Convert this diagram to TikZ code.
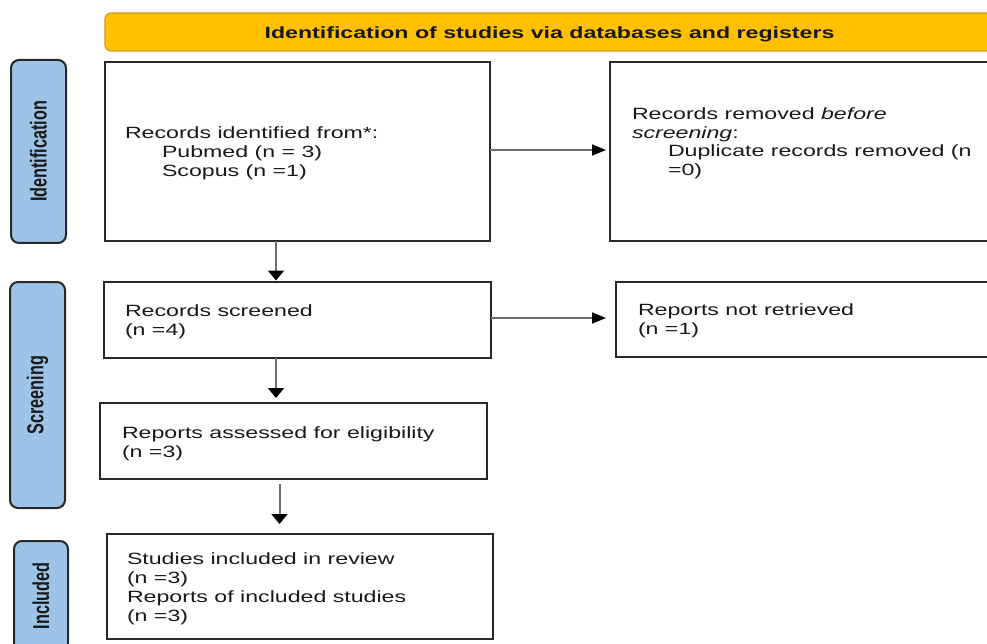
\documentclass[tikz,border=0pt]{standalone}
\usepackage{graphicx}
\usepackage{fontspec}
\setmainfont{Liberation Sans}[FakeStretch=1.42]
\newfontfamily\sidefont{Liberation Sans}
\usetikzlibrary{arrows.meta}
\definecolor{hdrfill}{RGB}{255,192,0}
\definecolor{hdrdraw}{RGB}{201,160,30}
\definecolor{sidefill}{RGB}{157,195,230}
\definecolor{boxdraw}{RGB}{40,40,40}
\definecolor{txt}{RGB}{25,25,25}
\definecolor{arrline}{RGB}{110,110,110}
\begin{document}
\begin{tikzpicture}[x=1pt,y=-1pt,
  every node/.style={inner sep=0pt, outer sep=0pt},
  box/.style={draw=boxdraw, line width=2.1pt, fill=white, anchor=north west},
  side/.style={draw=boxdraw, line width=2pt, fill=sidefill, rounded corners=8pt, rotate=90,
    font=\sidefont\bfseries\fontsize{16.2}{19}\selectfont, text=txt},
  hdr/.style={draw=hdrdraw, line width=1.2pt, fill=hdrfill, rounded corners=6pt, anchor=north west},
  tx/.style={anchor=base west, text=txt, font=\fontsize{16.3}{19}\selectfont},
  hx/.style={anchor=base, text=txt, font=\bfseries\fontsize{16.3}{19}\selectfont},
  harr/.style={draw=arrline, line width=1.5pt, -{Triangle[length=14pt,width=11pt,color=black]}},
  varr/.style={draw=arrline, line width=2pt, -{Triangle[length=10pt,width=16pt,color=black]}}
]
\useasboundingbox (0,0) rectangle (987,644);
\clip (0,0) rectangle (987,644);
\fill[white] (0,0) rectangle (987,644);

% header
\node[hdr, minimum width=889, minimum height=38] (hdr) at (105,13) {};
\node[hx] (hdrtxt) at (549.5,38.3) {Identification of studies via databases and registers};

% side labels
\node[side, minimum width=183, minimum height=55] (sid) at (38.5,151.5) {\scalebox{1}[1.42]{Identification}};
\node[side, minimum width=226, minimum height=55] (ssc) at (37.5,395) {\scalebox{1}[1.42]{Screening}};
\node[side, minimum width=110, minimum height=54] (sin) at (41,596) {\scalebox{1}[1.42]{Included}};

% boxes
\node[box, minimum width=385, minimum height=179] (b1) at (105,62) {};
\node[box, minimum width=400, minimum height=179] (b2) at (610,62) {};
\node[box, minimum width=387, minimum height=76] (b3) at (104,282) {};
\node[box, minimum width=400, minimum height=75] (b4) at (616,282) {};
\node[box, minimum width=387, minimum height=76] (b5) at (100,403) {};
\node[box, minimum width=386, minimum height=105] (b6) at (107,534) {};

% texts
\node[tx] (t11) at (125,138.5) {Records identified from*:};
\node[tx] (t12) at (162,157.5) {Pubmed (n = 3)};
\node[tx] (t13) at (162,176.5) {Scopus (n =1)};

\node[tx] (t21) at (632,119.5) {Records removed \textit{before}};
\node[tx] (t22) at (632,138.3) {\textit{screening}:};
\node[tx] (t23) at (668,157) {Duplicate records removed (n};
\node[tx] (t24) at (668,176) {=0)};

\node[tx] (t31) at (125,316.5) {Records screened};
\node[tx] (t32) at (125,335.5) {(n =4)};

\node[tx] (t41) at (638,315) {Reports not retrieved};
\node[tx] (t42) at (638,334) {(n =1)};

\node[tx] (t51) at (122,438.5) {Reports assessed for eligibility};
\node[tx] (t52) at (122,457.5) {(n =3)};

\node[tx] (t61) at (127,564) {Studies included in review};
\node[tx] (t62) at (127,583) {(n =3)};
\node[tx] (t63) at (127,602) {Reports of included studies};
\node[tx] (t64) at (127,621) {(n =3)};

% connectors
\coordinate (xa) at (276,0);
\coordinate (xb) at (279.5,0);
\coordinate (ya) at (0,150);
\coordinate (yb) at (0,318);
\draw[harr, shorten >=4pt] (b1.east |- ya) -- (b2.west |- ya);
\draw[harr, shorten >=10pt] (b3.east |- yb) -- (b4.west |- yb);
\draw[varr, shorten >=1.5pt] (b1.south -| xa) -- (b3.north -| xa);
\draw[varr, shorten >=5pt] (b3.south -| xa) -- (b5.north -| xa);
\draw[varr, shorten <=5pt, shorten >=10pt] (b5.south -| xb) -- (b6.north -| xb);
\end{tikzpicture}
\end{document}
